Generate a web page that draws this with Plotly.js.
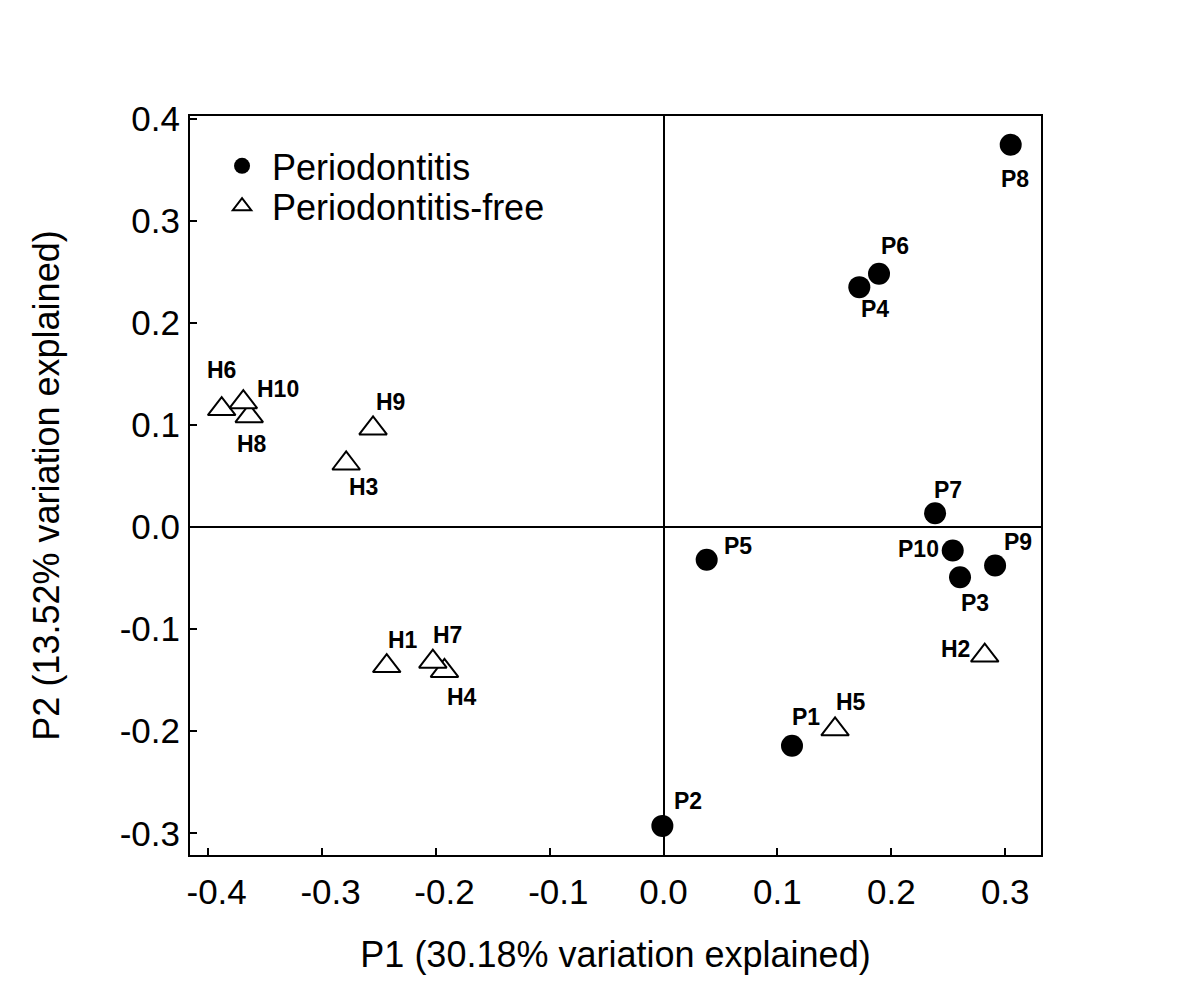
<!DOCTYPE html>
<html>
<head>
<meta charset="utf-8">
<script src="https://cdn.plot.ly/plotly-3.0.1.min.js"></script>
<style>html,body{margin:0;padding:0;background:#fff;}#chart{width:1200px;height:1005px;}</style>
</head>
<body>
<div id="chart"></div>
<script>
// ---- data ----
var perioNames = ["P1","P2","P3","P4","P5","P6","P7","P8","P9","P10"];
var perioX = [0.1128, -0.001, 0.2603, 0.1719, 0.0379, 0.1892, 0.2384, 0.3048, 0.2911, 0.2539];
var perioY = [-0.2143, -0.2927, -0.0492, 0.2349, -0.0321, 0.248, 0.0135, 0.3743, -0.0377, -0.0230];

var freeNames = ["H1","H2","H3","H4","H5","H6","H7","H8","H9","H10"];
var freeX = [-0.2430, 0.2820, -0.2786, -0.1923, 0.1506, -0.3879, -0.2025, -0.3637, -0.2550, -0.3689];
var freeY = [-0.1362, -0.1259, 0.0622, -0.1409, -0.1981, 0.1155, -0.1319, 0.1085, 0.0965, 0.1222];

var xTickVals = [-0.4, -0.3, -0.2, -0.1, 0.0, 0.1, 0.2, 0.3];
var xTickText = ["-0.4", "-0.3", "-0.2", "-0.1", "0.0", "0.1", "0.2", "0.3"];
var yTickVals = [-0.3, -0.2, -0.1, 0.0, 0.1, 0.2, 0.3, 0.4];
var yTickText = ["-0.3", "-0.2", "-0.1", "0.0", "0.1", "0.2", "0.3", "0.4"];

var seriesNames = ["Periodontitis", "Periodontitis-free"];
var xTitle = "P1 (30.18% variation explained)";
var yTitle = "P2 (13.52% variation explained)";

// ---- label placement (style: pixel offsets, right / down) ----
var labelOffset = {
  P1:[14,-29], P2:[26,-25], P3:[15,26], P4:[16,22], P5:[31,-14],
  P6:[16,-28], P7:[13,-23], P8:[4,34], P9:[23,-24], P10:[-34,-2],
  H1:[16,-26], H2:[-29,-7], H3:[17,24], H4:[17.5,26], H5:[16,-27],
  H6:[0,-39], H7:[15,-27], H8:[3,28], H9:[17,-26], H10:[35,-13]
};

var FONT = "Arial, 'Liberation Sans', sans-serif";

// negative x tick labels in the original sit slightly right of their tick
var xTickShown = xTickText.map(function (t) { return t.charAt(0) === "-" ? "\u2002" + t : t; });

var traces = [
  {
    type: "scatter", mode: "markers", name: seriesNames[0], legend: "legend",
    x: perioX, y: perioY, text: perioNames, hoverinfo: "text",
    marker: {symbol: "circle", size: 22, color: "#000000", line: {width: 0}}
  },
  {
    type: "scatter", mode: "markers", name: seriesNames[1], legend: "legend2",
    x: freeX, y: freeY, text: freeNames, hoverinfo: "text",
    marker: {symbol: "triangle-up", size: 24, color: "#ffffff", line: {width: 2, color: "#000000"}}
  }
];

function makeLabels(names, xs, ys) {
  return names.map(function (n, i) {
    var o = labelOffset[n] || [0, 0];
    return {
      x: xs[i], y: ys[i], xref: "x", yref: "y", text: "<b>" + n + "</b>",
      showarrow: false, xanchor: "center", yanchor: "middle",
      xshift: o[0], yshift: -o[1],
      font: {family: FONT, size: 23, color: "#000000"}
    };
  });
}

var annotations = makeLabels(perioNames, perioX, perioY).concat(makeLabels(freeNames, freeX, freeY));

var axisCommon = {
  showgrid: false, zeroline: true, zerolinecolor: "#000000", zerolinewidth: 2,
  showline: true, linecolor: "#000000", linewidth: 2, mirror: true,
  ticks: "inside", ticklen: 7, tickwidth: 2, tickcolor: "#000000",
  tickfont: {family: FONT, size: 35, color: "#000000"}
};

var legendCommon = {
  xanchor: "left", yanchor: "top",
  bgcolor: "rgba(0,0,0,0)", borderwidth: 0, itemwidth: 50,
  font: {family: FONT, size: 36, color: "#000000"}
};

var layout = {
  width: 1200, height: 1005,
  paper_bgcolor: "#ffffff", plot_bgcolor: "#ffffff",
  margin: {l: 190, r: 159, t: 116, b: 150, pad: 0},
  showlegend: true,
  legend: Object.assign({}, legendCommon, {x: 0.0259, y: 0.973}),
  legend2: Object.assign({}, legendCommon, {x: 0.0259, y: 0.9185}),
  xaxis: Object.assign({}, axisCommon, {
    range: [-0.4157, 0.3314], tickmode: "array", tickvals: xTickVals, ticktext: xTickShown,
    ticklabelstandoff: 5,
    title: {text: xTitle, font: {family: FONT, size: 36, color: "#000000"}, standoff: 32}
  }),
  yaxis: Object.assign({}, axisCommon, {
    range: [-0.3212, 0.4025], tickmode: "array", tickvals: yTickVals, ticktext: yTickText,
    ticklabelstandoff: 1,
    title: {text: yTitle, font: {family: FONT, size: 36, color: "#000000"}, standoff: 49}
  }),
  annotations: annotations,
  font: {family: FONT, color: "#000000"}
};

Plotly.newPlot("chart", traces, layout, {displayModeBar: false, staticPlot: true});
</script>
</body>
</html>
